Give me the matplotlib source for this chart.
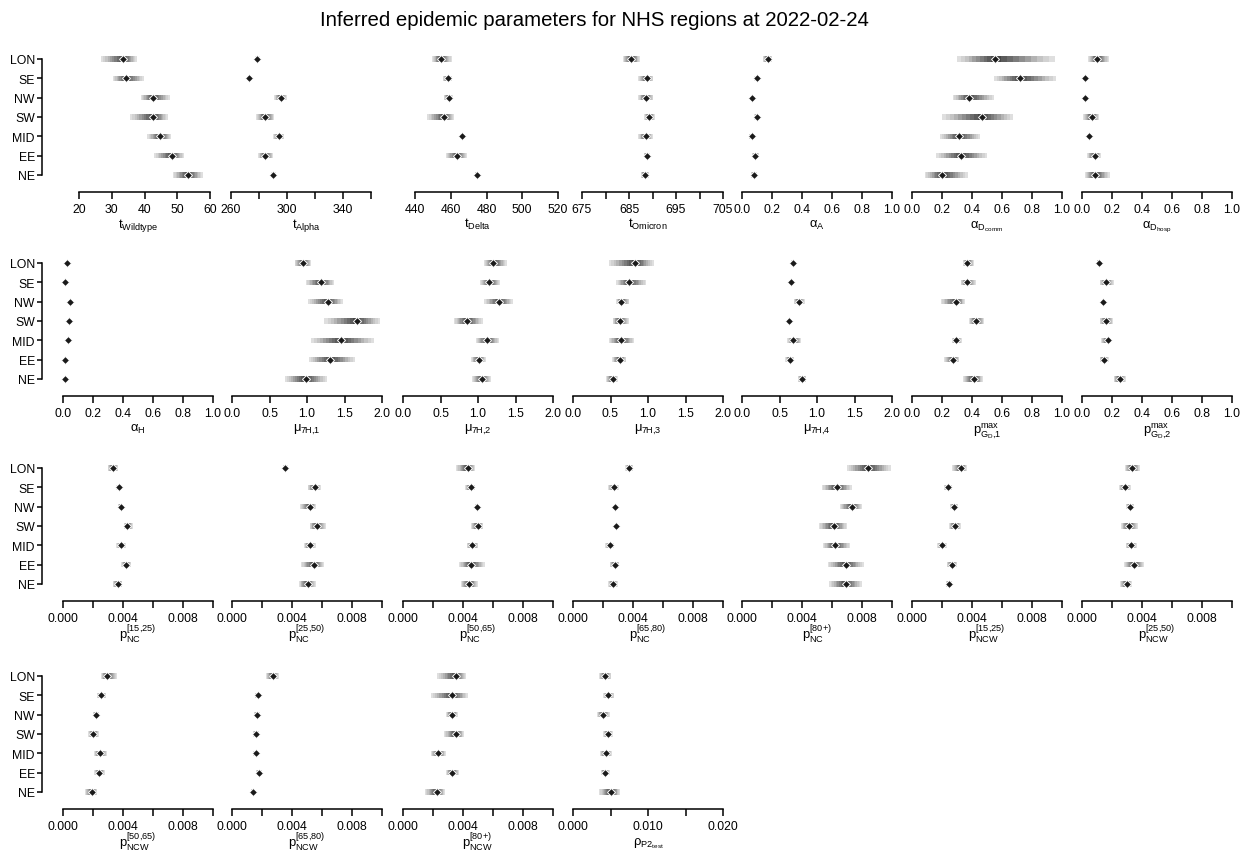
import numpy as np
import matplotlib
matplotlib.use('Agg')
import matplotlib.pyplot as plt

plt.rcParams['font.family'] = ['Liberation Sans', 'DejaVu Sans']
plt.rcParams['mathtext.default'] = 'regular'

regions = ['LON', 'SE', 'NW', 'SW', 'MID', 'EE', 'NE']

# (lower, median, upper) per region, same order as regions
t_wildtype = [(26.7, 33.5, 37.6), (30.3, 34.4, 39.8), (38.9, 42.5, 47.7), (35.6, 42.7, 47.1),
              (40.9, 44.8, 48.1), (42.9, 48.3, 52.1), (48.7, 53.2, 57.8)]
t_alpha = [(277.5, 278.8, 280.5), (271.8, 273.0, 274.3), (291.0, 295.7, 299.8), (277.9, 284.3, 291.0),
           (290.2, 294.3, 297.9), (279.5, 284.3, 290.2), (288.8, 290.2, 291.8)]
t_delta = [(449.7, 454.3, 460.5), (455.5, 458.2, 460.8), (456.0, 458.8, 461.0), (446.9, 456.4, 462.0),
           (465.0, 466.1, 467.3), (457.3, 463.6, 468.9), (473.6, 474.5, 475.4)]
t_omicron = [(683.7, 685.4, 687.4), (687.0, 688.8, 690.2), (687.0, 688.6, 690.2), (688.2, 689.3, 690.5),
             (687.0, 688.6, 690.0), (688.1, 688.8, 689.4), (687.5, 688.4, 689.3)]
alpha_a = [(0.137, 0.170, 0.203), (0.082, 0.097, 0.110), (0.057, 0.064, 0.071), (0.082, 0.099, 0.110),
           (0.044, 0.064, 0.075), (0.066, 0.088, 0.115), (0.060, 0.082, 0.100)]
alpha_d_comm = [(0.303, 0.553, 0.951), (0.548, 0.719, 0.962), (0.272, 0.380, 0.548), (0.203, 0.465, 0.674),
                (0.188, 0.314, 0.453), (0.161, 0.327, 0.502), (0.084, 0.203, 0.372)]
alpha_d_hosp = [(0.040, 0.100, 0.180), (0.010, 0.022, 0.035), (0.012, 0.018, 0.024), (0.007, 0.067, 0.113),
                (0.036, 0.044, 0.050), (0.033, 0.089, 0.124), (0.018, 0.089, 0.184)]
alpha_h = [(0.022, 0.027, 0.032), (0.007, 0.011, 0.015), (0.044, 0.049, 0.054), (0.033, 0.038, 0.043),
           (0.028, 0.033, 0.038), (0.007, 0.011, 0.015), (0.012, 0.016, 0.020)]
mu_1 = [(0.834, 0.944, 1.056), (0.980, 1.189, 1.366), (1.011, 1.277, 1.476), (1.233, 1.662, 1.973),
        (1.056, 1.455, 1.898), (1.024, 1.308, 1.640), (0.701, 0.980, 1.264)]
mu_2 = [(1.080, 1.203, 1.381), (1.027, 1.150, 1.292), (1.080, 1.283, 1.460), (0.681, 0.850, 1.062),
        (0.969, 1.124, 1.279), (0.907, 1.013, 1.102), (0.916, 1.049, 1.169)]
mu_3 = [(0.475, 0.822, 1.084), (0.578, 0.742, 0.978), (0.578, 0.644, 0.751), (0.529, 0.622, 0.742),
        (0.475, 0.640, 0.818), (0.520, 0.622, 0.711), (0.440, 0.533, 0.595)]
mu_4 = [(0.655, 0.680, 0.705), (0.640, 0.658, 0.676), (0.689, 0.756, 0.836), (0.610, 0.627, 0.645),
        (0.605, 0.680, 0.791), (0.578, 0.636, 0.693), (0.747, 0.805, 0.858)]
p_gd_1 = [(0.338, 0.369, 0.413), (0.325, 0.365, 0.425), (0.192, 0.294, 0.354), (0.380, 0.425, 0.482),
          (0.265, 0.294, 0.332), (0.214, 0.276, 0.316), (0.338, 0.413, 0.475)]
p_gd_2 = [(0.100, 0.111, 0.122), (0.117, 0.161, 0.210), (0.130, 0.139, 0.148), (0.117, 0.161, 0.206),
          (0.128, 0.170, 0.188), (0.117, 0.148, 0.177), (0.210, 0.250, 0.294)]
p_nc_15 = [(0.00300, 0.00333, 0.00367), (0.00356, 0.00373, 0.00396), (0.00367, 0.00385, 0.00402),
           (0.00407, 0.00429, 0.00467), (0.00356, 0.00385, 0.00418), (0.00389, 0.00418, 0.00456),
           (0.00333, 0.00367, 0.00396)]
p_nc_25 = [(0.00340, 0.00355, 0.00370), (0.00505, 0.00550, 0.00594), (0.00455, 0.00517, 0.00561),
           (0.00517, 0.00565, 0.00624), (0.00483, 0.00517, 0.00557), (0.00461, 0.00544, 0.00616),
           (0.00445, 0.00505, 0.00557)]
p_nc_50 = [(0.00354, 0.00431, 0.00480), (0.00414, 0.00451, 0.00480), (0.00482, 0.00491, 0.00500),
           (0.00453, 0.00498, 0.00535), (0.00425, 0.00462, 0.00502), (0.00374, 0.00451, 0.00546),
           (0.00385, 0.00442, 0.00498)]
p_nc_65 = [(0.00349, 0.00375, 0.00400), (0.00236, 0.00271, 0.00304), (0.00272, 0.00282, 0.00293),
           (0.00278, 0.00289, 0.00300), (0.00216, 0.00244, 0.00271), (0.00244, 0.00282, 0.00309),
           (0.00236, 0.00267, 0.00298)]
p_nc_80 = [(0.0070, 0.0084, 0.0099), (0.0053, 0.0063, 0.0073), (0.0065, 0.0073, 0.0080),
           (0.0051, 0.0061, 0.0070), (0.0054, 0.0062, 0.0072), (0.0057, 0.0069, 0.0081),
           (0.0058, 0.0069, 0.0080)]
p_ncw_15 = [(0.00267, 0.00327, 0.00367), (0.00213, 0.00240, 0.00267), (0.00253, 0.00280, 0.00307),
            (0.00247, 0.00287, 0.00327), (0.00167, 0.00200, 0.00233), (0.00233, 0.00267, 0.00300),
            (0.00227, 0.00247, 0.00267)]
p_ncw_25 = [(0.00287, 0.00333, 0.00387), (0.00247, 0.00287, 0.00327), (0.00293, 0.00320, 0.00347),
            (0.00260, 0.00313, 0.00373), (0.00293, 0.00327, 0.00367), (0.00280, 0.00347, 0.00413),
            (0.00253, 0.00300, 0.00333)]
p_ncw_50 = [(0.00253, 0.00293, 0.00360), (0.00227, 0.00253, 0.00287), (0.00200, 0.00220, 0.00240),
            (0.00167, 0.00200, 0.00240), (0.00207, 0.00247, 0.00293), (0.00207, 0.00240, 0.00280),
            (0.00147, 0.00193, 0.00227)]
p_ncw_65 = [(0.00227, 0.00270, 0.00313), (0.00153, 0.00170, 0.00193), (0.00147, 0.00167, 0.00187),
            (0.00140, 0.00160, 0.00180), (0.00140, 0.00160, 0.00180), (0.00160, 0.00180, 0.00200),
            (0.00127, 0.00140, 0.00153)]
p_ncw_80 = [(0.00227, 0.00353, 0.00420), (0.00187, 0.00327, 0.00433), (0.00287, 0.00327, 0.00367),
            (0.00273, 0.00353, 0.00407), (0.00187, 0.00233, 0.00287), (0.00287, 0.00327, 0.00373),
            (0.00147, 0.00227, 0.00280)]
rho_p2 = [(0.0035, 0.00427, 0.0051), (0.0040, 0.00467, 0.0055), (0.0032, 0.0040, 0.0049),
          (0.0040, 0.00467, 0.0053), (0.0036, 0.0044, 0.0052), (0.0037, 0.00427, 0.0049),
          (0.0035, 0.00507, 0.0063)]

# tick values and which get a label
unit_ticks = [0.0, 0.2, 0.4, 0.6, 0.8, 1.0]
unit_labels = ['0.0', '0.2', '0.4', '0.6', '0.8', '1.0']
mu_ticks = [0.0, 0.5, 1.0, 1.5, 2.0]
mu_labels = ['0.0', '0.5', '1.0', '1.5', '2.0']
p_ticks = [0.0, 0.002, 0.004, 0.006, 0.008, 0.010]
p_labels = ['0.000', '', '0.004', '', '0.008', '']

W, H = 1253, 854
fig = plt.figure(figsize=(W / 100, H / 100), dpi=100)
fig.text(594 / W, 1 - 21 / H, 'Inferred epidemic parameters for NHS regions at 2022-02-24',
         ha='center', va='center', fontsize=14.7)

row_axis_y = [193, 397, 602, 810]
col_x = [63, 232, 403, 573, 742, 912, 1082]
yspine_x = 42
panel_h = 145

levels = np.linspace(1.0, 0.1, 10)
greys = plt.cm.Greys(np.linspace(0.22, 0.78, 10))


def panel(data, label, row, col, ticks, ticklabels, x0=None, x1=None, drop=35):
    if x0 is None:
        x0 = col_x[col]
        x1 = x0 + 150
    ybot = row_axis_y[row]
    ax = fig.add_axes([x0 / W, 1 - ybot / H, (x1 - x0) / W, panel_h / H])
    ax.set_xlim(ticks[0], ticks[-1])
    ax.set_ylim(-0.88, 6.62)
    for i, (lo, med, hi) in enumerate(data):
        y = 6 - i
        for f, c in zip(levels, greys):
            a = med - f * (med - lo)
            b = med + f * (hi - med)
            ax.barh(y, b - a, left=a, height=0.27, color=c, linewidth=0, clip_on=False)
        ax.plot(med, y, 'D', ms=4.4, mfc='#1a1a1a', mec='white', mew=0.7, clip_on=False)
    for s in ['top', 'right']:
        ax.spines[s].set_visible(False)
    ax.spines['bottom'].set_linewidth(1.1)
    ax.set_xticks(ticks)
    ax.set_xticklabels(ticklabels)
    ax.tick_params(axis='x', direction='out', length=5, width=1.1, pad=3, labelsize=8.8)
    if col == 0:
        ax.spines['left'].set_position(('outward', (x0 - yspine_x) * 0.72))
        ax.spines['left'].set_bounds(0, 6)
        ax.spines['left'].set_linewidth(1.1)
        ax.set_yticks(range(7))
        ax.set_yticklabels(regions[::-1])
        ax.tick_params(axis='y', direction='out', length=3.6, width=1.1, pad=1.5, labelsize=8.8)
    else:
        ax.spines['left'].set_visible(False)
        ax.set_yticks([])
    fig.text((col_x[col] + 75) / W, 1 - (ybot + drop) / H, label, ha='center', va='baseline',
             fontsize=9.4)


# row 1
panel(t_wildtype, r'$t_{Wildtype}$', 0, 0, [20, 30, 40, 50, 60],
      ['20', '30', '40', '50', '60'], 79, 210)
panel(t_alpha, r'$t_{Alpha}$', 0, 1, [260, 280, 300, 320, 340, 360],
      ['260', '', '300', '', '340', ''], 231, 371)
panel(t_delta, r'$t_{Delta}$', 0, 2, [440, 460, 480, 500, 520],
      ['440', '460', '480', '500', '520'], 415, 558)
panel(t_omicron, r'$t_{Omicron}$', 0, 3, [675, 680, 685, 690, 695, 700, 705],
      ['675', '', '685', '', '695', '', '705'], 582, 723)
panel(alpha_a, r'$\alpha_A$', 0, 4, unit_ticks, unit_labels)
panel(alpha_d_comm, r'$\alpha_{D_{comm}}$', 0, 5, unit_ticks, unit_labels)
panel(alpha_d_hosp, r'$\alpha_{D_{hosp}}$', 0, 6, unit_ticks, unit_labels)

# row 2
panel(alpha_h, r'$\alpha_H$', 1, 0, unit_ticks, unit_labels)
panel(mu_1, r'$\mu_{7H{,}1}$', 1, 1, mu_ticks, mu_labels)
panel(mu_2, r'$\mu_{7H{,}2}$', 1, 2, mu_ticks, mu_labels)
panel(mu_3, r'$\mu_{7H{,}3}$', 1, 3, mu_ticks, mu_labels)
panel(mu_4, r'$\mu_{7H{,}4}$', 1, 4, mu_ticks, mu_labels)
panel(p_gd_1, r'$p_{G_D{,}1}^{max}$', 1, 5, unit_ticks, unit_labels, drop=37)
panel(p_gd_2, r'$p_{G_D{,}2}^{max}$', 1, 6, unit_ticks, unit_labels, drop=37)

# row 3
panel(p_nc_15, r'$p_{NC}^{[15{,}25)}$', 2, 0, p_ticks, p_labels, drop=37)
panel(p_nc_25, r'$p_{NC}^{[25{,}50)}$', 2, 1, p_ticks, p_labels, drop=37)
panel(p_nc_50, r'$p_{NC}^{[50{,}65)}$', 2, 2, p_ticks, p_labels, drop=37)
panel(p_nc_65, r'$p_{NC}^{[65{,}80)}$', 2, 3, p_ticks, p_labels, drop=37)
panel(p_nc_80, r'$p_{NC}^{[80{+})}$', 2, 4, p_ticks, p_labels, drop=37)
panel(p_ncw_15, r'$p_{NCW}^{[15{,}25)}$', 2, 5, p_ticks, p_labels, drop=37)
panel(p_ncw_25, r'$p_{NCW}^{[25{,}50)}$', 2, 6, p_ticks, p_labels, drop=37)

# row 4
panel(p_ncw_50, r'$p_{NCW}^{[50{,}65)}$', 3, 0, p_ticks, p_labels, drop=37)
panel(p_ncw_65, r'$p_{NCW}^{[65{,}80)}$', 3, 1, p_ticks, p_labels, drop=37)
panel(p_ncw_80, r'$p_{NCW}^{[80{+})}$', 3, 2, p_ticks, p_labels, drop=37)
panel(rho_p2, r'$\rho_{P2_{test}}$', 3, 3, [0.0, 0.005, 0.010, 0.015, 0.020],
      ['0.000', '', '0.010', '', '0.020'])

fig.savefig('out.png', dpi=100)
